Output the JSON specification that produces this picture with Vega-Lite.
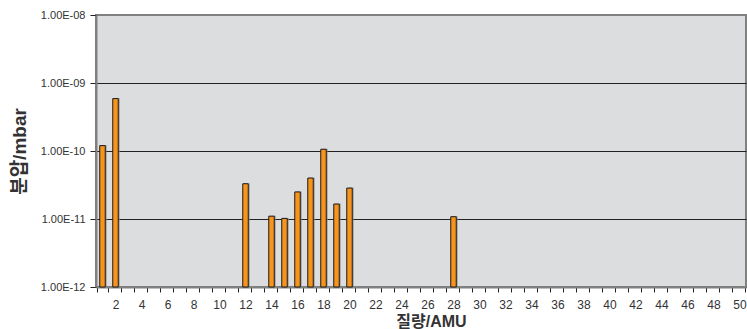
{
  "$schema": "https://vega.github.io/schema/vega-lite/v6.json",
  "width": 650,
  "height": 272,
  "autosize": {"type": "none"},
  "padding": {"left": 96, "top": 15, "right": 1, "bottom": 42},
  "background": "white",
  "config": {
    "font": "Liberation Sans, Noto Sans CJK KR",
    "view": {"fill": "#DCDDDF", "stroke": "#808080", "strokeWidth": 2}
  },
  "data": {
    "values": [
      {"amu": 1, "p": 1.2e-10},
      {"amu": 2, "p": 5.9e-10},
      {"amu": 12, "p": 3.3e-11},
      {"amu": 14, "p": 1.1e-11},
      {"amu": 15, "p": 1.02e-11},
      {"amu": 16, "p": 2.5e-11},
      {"amu": 17, "p": 4.0e-11},
      {"amu": 18, "p": 1.06e-10},
      {"amu": 19, "p": 1.66e-11},
      {"amu": 20, "p": 2.85e-11},
      {"amu": 28, "p": 1.08e-11}
    ]
  },
  "encoding": {
    "x": {
      "field": "amu",
      "type": "ordinal",
      "scale": {"domain": [1,2,3,4,5,6,7,8,9,10,11,12,13,14,15,16,17,18,19,20,21,22,23,24,25,26,27,28,29,30,31,32,33,34,35,36,37,38,39,40,41,42,43,44,45,46,47,48,49,50]},
      "axis": {
        "title": "질량/AMU",
        "titleFont": "Liberation Sans, Noto Sans CJK KR",
        "titleFontSize": 16,
        "titleFontWeight": "bold",
        "titleColor": "#333333",
        "titlePadding": 3,
        "titleX": 335,
        "labelAngle": 0,
        "labelFontSize": 12,
        "labelColor": "#333333",
        "labelPadding": 7,
        "labelOverlap": false,
        "labelExpr": "datum.value % 2 == 0 ? datum.label : ''",
        "tickBand": "extent",
        "tickSize": 5,
        "tickColor": "#222222",
        "domainColor": "#808080",
        "domainWidth": 2,
        "grid": false
      }
    },
    "y": {
      "field": "p",
      "type": "quantitative",
      "scale": {"type": "log", "domain": [1e-12, 1e-8], "nice": false},
      "axis": {
        "title": "분압/mbar",
        "titleFont": "Liberation Sans, Noto Sans CJK KR",
        "titleFontSize": 19,
        "titleFontWeight": "bold",
        "titleColor": "#333333",
        "titlePadding": 11,
        "values": [1e-12, 1e-11, 1e-10, 1e-9, 1e-8],
        "labelExpr": "'1.00E-' + (round(-log(datum.value) / LN10) < 10 ? '0' : '') + round(-log(datum.value) / LN10)",
        "labelFontSize": 11,
        "labelColor": "#333333",
        "labelPadding": 5,
        "tickSize": 6,
        "tickColor": "#222222",
        "domainColor": "#808080",
        "domainWidth": 2,
        "grid": true,
        "gridColor": {"condition": {"test": "datum.value > 5e-9", "value": "#808080"}, "value": "#222222"},
        "gridWidth": 1
      }
    },
    "y2": {"datum": 1e-12}
  },
  "layer": [
    {
      "mark": {"type": "bar", "width": 6, "color": "#8a8a8a", "opacity": 0.55, "xOffset": 1.5, "yOffset": -0.5}
    },
    {
      "mark": {"type": "bar", "width": 5.5, "fill": "#F7941D", "stroke": "#1a1a1a", "strokeWidth": 1}
    }
  ]
}
